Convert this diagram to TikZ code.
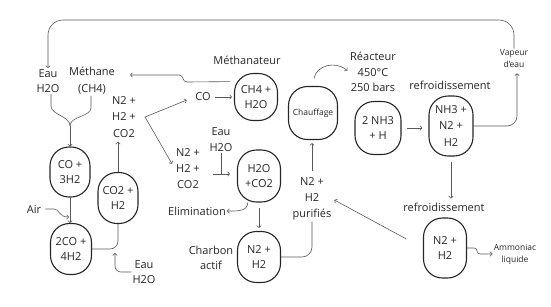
\documentclass[tikz,border=0pt]{standalone}
\usepackage{fontspec}
\setmainfont{Open Sans}
\usetikzlibrary{arrows.meta,calc}
\begin{document}
\begin{tikzpicture}[x=1pt,y=-1pt,
  capsule/.style={draw=black!85, line width=1.1pt, rounded corners=19pt, inner sep=0pt,
    align=center, text=black!85, font=\fontsize{11}{15}\selectfont},
  lbl/.style={align=center, inner sep=1pt, text=black!85, font=\fontsize{11}{15.5}\selectfont},
  small/.style={align=center, inner sep=1pt, text=black!85, font=\fontsize{8.5}{12}\selectfont},
  conn/.style={draw=black!65, line width=0.6pt},
  arr/.style={-{Straight Barb[length=2pt,width=4.5pt]}}
]
\useasboundingbox (0,0) rectangle (551,306);

% capsule nodes
\node[capsule, minimum width=40pt, minimum height=50pt] (co3h2) at (70,172) {CO +\\3H2};
\node[capsule, minimum width=41pt, minimum height=51pt] (co4h2) at (71,249) {2CO +\\4H2};
\node[capsule, minimum width=40pt, minimum height=51pt] (co2h2) at (118,198) {CO2 +\\H2};
\node[capsule, minimum width=43pt, minimum height=47pt] (ch4) at (256,97) {CH4 +\\H2O};
\node[capsule, minimum width=49pt, minimum height=53pt, font=\fontsize{8.5}{11}\selectfont] (chauf) at (313,113) {Chauffage};
\node[capsule, minimum width=46pt, minimum height=53pt] (nh3h) at (378,128) {2 NH3\\+ H};
\node[capsule, minimum width=44pt, minimum height=60pt, font=\fontsize{11}{16.5}\selectfont] (nh3n2) at (451,126) {NH3 +\\N2 +\\H2};
\node[capsule, minimum width=43pt, minimum height=52pt] (h2oco2) at (259,176) {H2O\\+CO2};
\node[capsule, minimum width=43pt, minimum height=51pt] (n2h2a) at (259,257) {N2 +\\H2};
\node[capsule, minimum width=43pt, minimum height=60pt] (n2h2b) at (445,248) {N2 +\\H2};

% labels
\node[lbl] (eau1) at (48,81) {Eau\\H2O};
\node[lbl, font=\fontsize{11}{17}\selectfont] (meth) at (92,81) {Méthane\\(CH4)};
\node[lbl, font=\fontsize{11}{16.5}\selectfont] (mix1) at (124,117) {N2 +\\H2 +\\CO2};
\node[lbl] (co) at (203,97) {CO};
\node[lbl] (methanateur) at (247,60) {Méthanateur};
\node[lbl, font=\fontsize{11}{16}\selectfont] (eau2) at (221,140) {Eau\\H2O};
\node[lbl, font=\fontsize{11}{16}\selectfont] (mix2) at (188,169) {N2 +\\H2 +\\CO2};
\node[lbl] (elim) at (197,211) {Elimination};
\node[lbl] (charbon) at (211,258) {Charbon\\actif};
\node[lbl, font=\fontsize{11}{16}\selectfont] (purif) at (312,199) {N2 +\\H2\\purifiés};
\node[lbl] (reacteur) at (373,72) {Réacteur\\450°C\\250 bars};
\node[lbl] (refr1) at (450,85) {refroidissement};
\node[small] (vapeur) at (514,59) {Vapeur\\d'eau};
\node[lbl] (refr2) at (444,207) {refroidissement};
\node[small] (ammon) at (515,254) {Ammoniac\\liquide};
\node[lbl] (air) at (34,209) {Air};
\node[lbl] (eau3) at (144,272) {Eau\\H2O};

% free ends
\coordinate (loopy) at (0,20);
\coordinate (merge) at (70,126);
\coordinate (airjoin) at (69,217);
\coordinate (eaujoin) at (115,253);
\coordinate (split) at ([xshift=8pt]mix1.east);
\coordinate (tl) at ([yshift=-5pt]mix2.east);

% connectors
\draw[conn, arr, rounded corners=15pt] (vapeur.north) |- (eau1.north |- loopy) -- (eau1.north);
\draw[conn, arr, rounded corners=10pt, shorten >=4pt] (nh3n2.east) -| ([xshift=3pt]vapeur.south);
\draw[conn, arr, shorten <=5pt, shorten >=6pt] (nh3h.east) -- (nh3h.east -| nh3n2.west);
\draw[conn, arr, shorten <=8pt, shorten >=2pt] (chauf.north) .. controls (316,66) and (335,60) .. (reacteur.west);
\draw[conn, arr, shorten <=6pt, shorten >=3pt] (purif.north) -- (purif.north |- chauf.south);
\draw[conn, rounded corners=10pt] (n2h2a.east) -| (purif.south);
\draw[conn, arr, shorten <=19pt, shorten >=2pt] (n2h2b.west) -- (purif.east);
\draw[conn, arr, shorten <=5pt, shorten >=3pt] (nh3n2.south) -- (nh3n2.south |- refr2.north);
\draw[conn, arr, rounded corners=3pt] (n2h2b.east) -- ++(10,0) |- (ammon.west);
\draw[conn, arr, shorten <=4pt, shorten >=14pt] (ch4.145) -- (187,82) .. controls (182,82) and (184,75) .. (179,75) -- ([yshift=6pt]meth.east);
\draw[conn, arr, shorten <=3pt, shorten >=2pt] (co.east) -- (ch4.west);
\draw[conn, {Straight Barb[length=2pt,width=4.5pt]}-{Straight Barb[length=2pt,width=4.5pt]}, shorten <=8pt, shorten >=6pt] (co.west) -- (split) -- (mix2.west);
\draw[conn, arr, shorten >=3pt] (co2h2.north) -- (co2h2.north |- mix1.south);
\draw[conn] ([xshift=3pt]eau1.south) -- ++(0,12) .. controls +(0,9) and (70,116) .. (merge);
\draw[conn] ([xshift=-1pt]meth.south) -- ++(0,12) .. controls +(0,9) and (70,116) .. (merge);
\draw[conn, arr] (merge) -- (co3h2.north);
\draw[conn, arr] (co3h2.south) -- (co3h2.south |- co4h2.north);
\draw[conn, arr, shorten <=3pt] (air.east) -- (54,209) .. controls (60,209) and (58,217) .. (airjoin);
\draw[conn, rounded corners=8pt] (co4h2.east) -| (co2h2.south);
\draw[conn, arr, rounded corners=6pt] (eau3.west) -| (eaujoin);
\draw[conn] (eau2.south) -- (eau2.south |- tl);
\draw[conn, arr, shorten <=12pt, shorten >=7pt] (tl) -- (tl -| h2oco2.west);
\draw[conn, arr] (h2oco2.247) .. controls +(0,9) and +(10,0) .. (elim.east);
\draw[conn, arr, shorten <=5pt, shorten >=3pt] (h2oco2.south) -- (n2h2a.north);
\end{tikzpicture}
\end{document}
